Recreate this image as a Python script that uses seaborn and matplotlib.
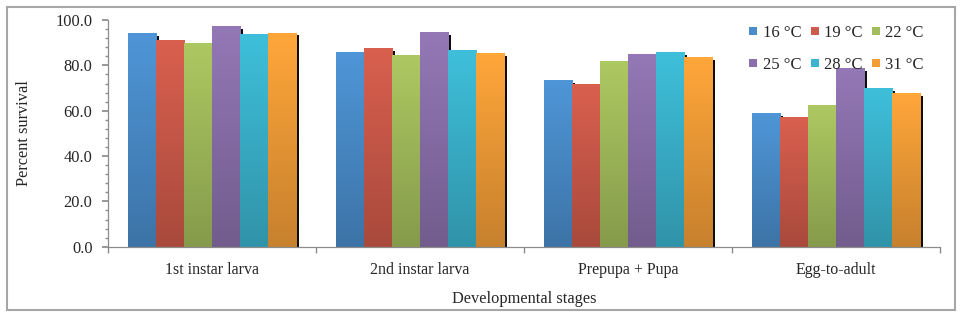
import numpy as np
import pandas as pd
import seaborn as sns
import matplotlib
matplotlib.use("Agg")
from matplotlib import pyplot as plt
from matplotlib import patheffects as pe
from matplotlib.colors import to_rgb, LinearSegmentedColormap
from matplotlib.lines import Line2D

# data
stages = ["1st instar larva", "2nd instar larva", "Prepupa + Pupa", "Egg-to-adult"]
temps = ["16 °C", "19 °C", "22 °C", "25 °C", "28 °C", "31 °C"]
t16 = [94.1, 85.8, 73.4, 58.8]
t19 = [91.2, 87.6, 71.8, 57.3]
t22 = [90.0, 84.7, 81.9, 62.4]
t25 = [97.4, 94.7, 85.1, 78.7]
t28 = [93.8, 86.6, 86.0, 69.9]
t31 = [94.5, 85.4, 83.7, 67.7]
colors = ["#4A8DCB", "#CD5A4A", "#A3BD5C", "#8B71AC", "#3BB4CE", "#F39D37"]

series = [t16, t19, t22, t25, t28, t31]
rows = []
for t, vals in zip(temps, series):
    for s, v in zip(stages, vals):
        rows.append({"stage": s, "temp": t, "value": v})
df = pd.DataFrame(rows)

sns.set_theme(style="white")
plt.rcParams["font.family"] = ["Liberation Serif", "DejaVu Serif"]

fig = plt.figure(figsize=(9.63, 3.18), dpi=100)
ax = fig.add_axes([0.112, 0.224, 0.864, 0.713])

sns.barplot(data=df, x="stage", y="value", hue="temp", order=stages, hue_order=temps,
            palette=colors, width=0.81, gap=0, dodge=True, errorbar=None,
            saturation=1, ax=ax, legend=False, linewidth=0)

# shadow + vertical gradient on each bar
for cont, col in zip(ax.containers, colors):
    r, g, b = to_rgb(col)
    top = (min(1, r * 1.06), min(1, g * 1.06), min(1, b * 1.06))
    bot = (r * 0.82, g * 0.82, b * 0.82)
    cmap = LinearSegmentedColormap.from_list("grad", [bot, top])
    for p in cont.patches:
        p.set_path_effects([pe.SimplePatchShadow(offset=(2.2, -2.0), shadow_rgbFace="black", alpha=0.95),
                            pe.Normal()])
        x0, y0 = p.get_x(), p.get_y()
        w, h = p.get_width(), p.get_height()
        im = ax.imshow(np.linspace(0, 1, 64).reshape(-1, 1), cmap=cmap, origin="lower",
                       extent=[x0, x0 + w, y0, y0 + h], aspect="auto", zorder=p.get_zorder() + 0.01)
        im.set_clip_path(p)

ax.set_xlim(-0.5, 3.5)
ax.set_ylim(0, 100)
ax.set_yticks(np.arange(0, 101, 20))
ax.set_yticklabels([f"{v:.1f}" for v in np.arange(0, 101, 20)], fontsize=11.8)
ax.set_yticks(np.arange(0, 101, 4), minor=True)
ax.set_xticks(range(len(stages)))
ax.set_xticklabels(stages, fontsize=11.5)
ax.set_xticks([-0.5, 0.5, 1.5, 2.5, 3.5], minor=True)
ax.tick_params(axis="x", which="major", length=0, pad=11)
ax.tick_params(axis="x", which="minor", length=4, color="#8c8c8c", direction="out", bottom=True)
ax.tick_params(axis="y", which="major", length=4, color="#8c8c8c", direction="out", left=True, pad=7)
ax.tick_params(axis="y", which="minor", length=2.5, color="#8c8c8c", direction="out", left=True)

for side in ["top", "right"]:
    ax.spines[side].set_visible(False)
for side in ["left", "bottom"]:
    ax.spines[side].set_color("#8c8c8c")
    ax.spines[side].set_linewidth(0.9)

ax.set_ylabel("Percent survival", fontsize=11.8, labelpad=17)
ax.set_xlabel("Developmental stages", fontsize=11.8, labelpad=9)

# legend, row-wise order
handles = [Line2D([], [], marker="s", linestyle="", markersize=5.5, markerfacecolor=c,
                  markeredgewidth=0) for c in colors]
order = [0, 3, 1, 4, 2, 5]
ax.legend([handles[i] for i in order], [temps[i] for i in order], ncol=3, frameon=False,
          loc="upper right", bbox_to_anchor=(0.998, 1.045), fontsize=12, handlelength=0.5,
          handletextpad=0.3, columnspacing=0.55, labelspacing=0.95)

# chart area border
border = plt.Rectangle((0.007, 0.025), 0.985, 0.953, transform=fig.transFigure, fill=False,
                       edgecolor="#a6a6a6", linewidth=1.5)
fig.add_artist(border)

fig.savefig("out.png", dpi=100)
